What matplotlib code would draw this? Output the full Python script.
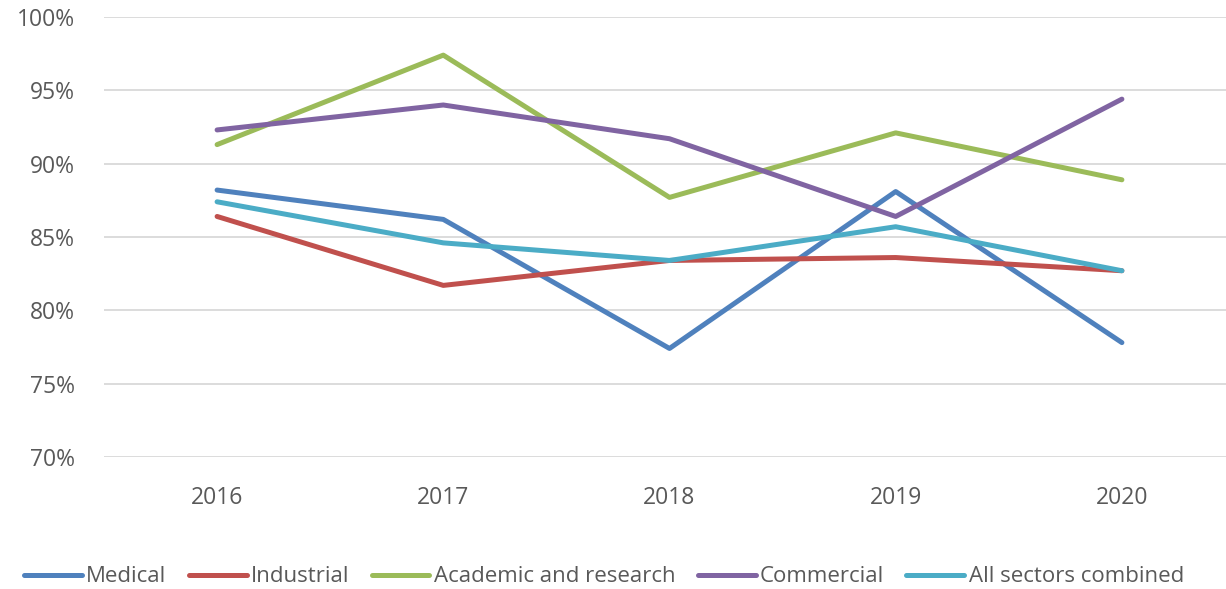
import matplotlib
matplotlib.use("Agg")
import matplotlib.pyplot as plt
from matplotlib.ticker import FuncFormatter

years = [2016, 2017, 2018, 2019, 2020]
medical = [88.2, 86.2, 77.4, 88.1, 77.8]
industrial = [86.4, 81.7, 83.4, 83.6, 82.7]
academic = [91.3, 97.4, 87.7, 92.1, 88.9]
commercial = [92.3, 94.0, 91.7, 86.4, 94.4]
all_sectors = [87.4, 84.6, 83.4, 85.7, 82.7]

series = [
    ("Medical", medical, "#4F81BD"),
    ("Industrial", industrial, "#C0504D"),
    ("Academic and research", academic, "#9BBB59"),
    ("Commercial", commercial, "#8064A2"),
    ("All sectors combined", all_sectors, "#4BACC6"),
]

plt.rcParams['font.family'] = ['Open Sans', 'DejaVu Sans']

fig = plt.figure(figsize=(12.26, 5.89), dpi=100)
ax = fig.add_axes([104/1226, 1-457/589, (1235-104)/1226, (457-17)/589])

for name, vals, col in series:
    ax.plot(years, vals, color=col, lw=3.6, label=name, solid_capstyle='round', solid_joinstyle='round')

ax.set_xlim(2015.5, 2020.5)
ax.set_ylim(70, 100)
ax.set_yticks([70, 75, 80, 85, 90, 95, 100])
ax.yaxis.set_major_formatter(FuncFormatter(lambda v, p: f"{int(v)}%"))
ax.set_xticks(years)
ax.grid(axis='y', color='#D9D9D9', lw=1.3)
ax.set_axisbelow(True)
for s in ax.spines.values():
    s.set_visible(False)
ax.tick_params(axis='both', length=0, colors='#595959', labelsize=16.5)
ax.tick_params(axis='y', pad=21)
ax.tick_params(axis='x', pad=21)

leg = fig.legend(loc='center', bbox_to_anchor=(604/1226, 1-577/589), ncol=5, frameon=False,
                 fontsize=16, handlelength=2.6, handletextpad=0.2, columnspacing=1.0,
                 labelcolor='#595959')
fig.savefig("out.png", dpi=100)
